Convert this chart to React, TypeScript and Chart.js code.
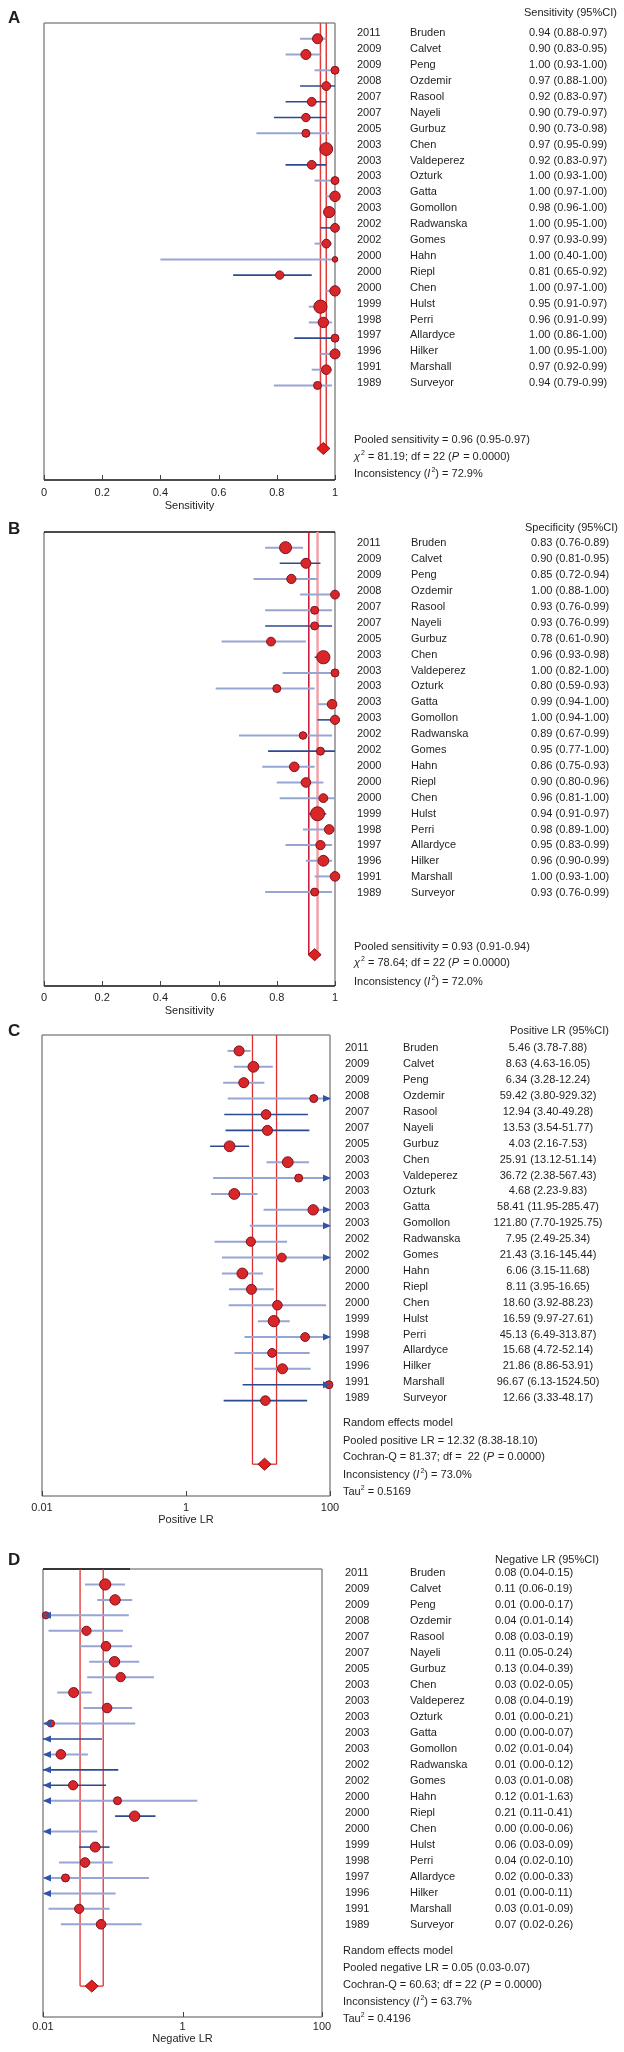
import React, { useEffect, useRef } from 'react';
import { Chart, registerables } from 'chart.js';
Chart.register(...registerables);

const FONT = '"Liberation Sans", Arial, sans-serif';
const W = 624;

// ---------- data ----------
const studyYears = ['2011','2009','2009','2008','2007','2007','2005','2003','2003','2003','2003','2003','2002','2002','2000','2000','2000','1999','1998','1997','1996','1991','1989'];
const studyNames = ['Bruden','Calvet','Peng','Ozdemir','Rasool','Nayeli','Gurbuz','Chen','Valdeperez','Ozturk','Gatta','Gomollon','Radwanska','Gomes','Hahn','Riepl','Chen','Hulst','Perri','Allardyce','Hilker','Marshall','Surveyor'];

// A: sensitivity
const sensEst = [0.94,0.90,1.00,0.97,0.92,0.90,0.90,0.97,0.92,1.00,1.00,0.98,1.00,0.97,1.00,0.81,1.00,0.95,0.96,1.00,1.00,0.97,0.94];
const sensLow = [0.88,0.83,0.93,0.88,0.83,0.79,0.73,0.95,0.83,0.93,0.97,0.96,0.95,0.93,0.40,0.65,0.97,0.91,0.91,0.86,0.95,0.92,0.79];
const sensHigh = [0.97,0.95,1.00,1.00,0.97,0.97,0.98,0.99,0.97,1.00,1.00,1.00,1.00,0.99,1.00,0.92,1.00,0.97,0.99,1.00,1.00,0.99,0.99];
const sensWeight = [5,5,4,4.4,4.4,4.2,4,6.4,4.4,4,5.2,5.6,4.4,4.4,2.8,4.2,5.2,6.6,5.2,4,5,4.8,4];
const sensTone = 'llldddlldllldlldllldlll';
const sensPooled = [0.96, 0.95, 0.97];

// B: specificity
const specEst = [0.83,0.90,0.85,1.00,0.93,0.93,0.78,0.96,1.00,0.80,0.99,1.00,0.89,0.95,0.86,0.90,0.96,0.94,0.98,0.95,0.96,1.00,0.93];
const specLow = [0.76,0.81,0.72,0.88,0.76,0.76,0.61,0.93,0.82,0.59,0.94,0.94,0.67,0.77,0.75,0.80,0.81,0.91,0.89,0.83,0.90,0.93,0.76];
const specHigh = [0.89,0.95,0.94,1.00,0.99,0.99,0.90,0.98,1.00,0.93,1.00,1.00,0.99,1.00,0.93,0.96,1.00,0.97,1.00,0.99,0.99,1.00,0.99];
const specWeight = [6,5,4.6,4.4,4,4,4.4,6.6,4,4,4.8,4.6,3.8,4,4.8,4.8,4.4,7,4.8,4.6,5.4,4.8,4];
const specTone = 'ldllldldllldldllldlllll';
const specPooled = [0.93, 0.91, 0.94];

// C: positive LR
const plrEst = [5.46,8.63,6.34,59.42,12.94,13.53,4.03,25.91,36.72,4.68,58.41,121.80,7.95,21.43,6.06,8.11,18.60,16.59,45.13,15.68,21.86,96.67,12.66];
const plrLow = [3.78,4.63,3.28,3.80,3.40,3.54,2.16,13.12,2.38,2.23,11.95,7.70,2.49,3.16,3.15,3.95,3.92,9.97,6.49,4.72,8.86,6.13,3.33];
const plrHigh = [7.88,16.05,12.24,929.32,49.28,51.77,7.53,51.14,567.43,9.83,285.47,1925.75,25.34,145.44,11.68,16.65,88.23,27.61,313.87,52.14,53.91,1524.50,48.17];
const plrWeight = [5,5.4,5,4,4.8,5,5.4,5.4,4,5.4,5.2,5,4.6,4.4,5.4,5,4.8,5.6,4.4,4.4,5,4,4.8];
const plrTone = 'lllldddllllllllllllllddd'.slice(0, 23);
const plrPooled = [12.32, 8.38, 18.10];

// D: negative LR
const nlrEst = [0.078,0.108,0.011,0.042,0.08,0.106,0.13,0.0275,0.083,0.013,0.004,0.018,0.008,0.027,0.117,0.206,0.003,0.056,0.04,0.021,0.008,0.033,0.068];
const nlrLow = [0.04,0.06,0.004,0.012,0.034,0.046,0.043,0.016,0.038,0.004,0.003,0.009,0.004,0.009,0.009,0.108,0.003,0.033,0.017,0.004,0.004,0.012,0.018];
const nlrHigh = [0.15,0.19,0.17,0.14,0.19,0.24,0.39,0.05,0.19,0.21,0.07,0.044,0.12,0.08,1.63,0.41,0.06,0.09,0.10,0.33,0.11,0.09,0.26];
const nlrWeight = [5.6,5.2,3.6,4.6,4.8,5.2,4.6,5,4.8,3.6,4,4.8,4,4.6,4,5.2,4,5,4.8,4,4,4.6,4.8];
const nlrTone = 'lllllllllldlddldldlllll';
const nlrPooled = [0.05, 0.034, 0.073];

const linTicks = [0, 0.2, 0.4, 0.6, 0.8, 1];
const linTickLabels = ['0', '0.2', '0.4', '0.6', '0.8', '1'];
const logTicks = [0.01, 1, 100];
const logTickLabels = ['0.01', '1', '100'];

type Seg = { t: string; i?: boolean; sup?: boolean };
const chi = (v: string): Seg[] => [{ t: 'χ', i: true }, { t: '2', sup: true }, { t: ` = ${v}; df = 22 (` }, { t: 'P', i: true }, { t: ' = 0.0000)' }];
const incons = (v: string): Seg[] => [{ t: 'Inconsistency (' }, { t: 'I', i: true }, { t: '2', sup: true }, { t: `) = ${v}` }];
const statsA: Seg[][] = [[{ t: 'Pooled sensitivity = 0.96 (0.95-0.97)' }], chi('81.19'), incons('72.9%')];
const statsB: Seg[][] = [[{ t: 'Pooled sensitivity = 0.93 (0.91-0.94)' }], chi('78.64'), incons('72.0%')];
const statsC: Seg[][] = [
  [{ t: 'Random effects model' }],
  [{ t: 'Pooled positive LR = 12.32 (8.38-18.10)' }],
  [{ t: 'Cochran-Q = 81.37; df =  22 (' }, { t: 'P', i: true }, { t: ' = 0.0000)' }],
  incons('73.0%'),
  [{ t: 'Tau' }, { t: '2', sup: true }, { t: ' = 0.5169' }],
];
const statsD: Seg[][] = [
  [{ t: 'Random effects model' }],
  [{ t: 'Pooled negative LR = 0.05 (0.03-0.07)' }],
  [{ t: 'Cochran-Q = 60.63; df = 22 (' }, { t: 'P', i: true }, { t: ' = 0.0000)' }],
  incons('63.7%'),
  [{ t: 'Tau' }, { t: '2', sup: true }, { t: ' = 0.4196' }],
];

const DARK = '#2c4a92';
const LIGHT = '#97a5d3';
const RED = '#d92628';
const RED_DARK = '#7d1220';
const ARROW = '#2f55a6';
const TEXT = '#1e1e1e';
const POOLED_ROW = 26;

const panels: any[] = [
  {
    top: 0, height: 515, letter: 'A', letterY: 18,
    box: { l: 44, t: 23, r: 335, b: 480 }, topColor: '#8c8c8c', bottomColor: '#111',
    xType: 'linear', xMin: 0, xMax: 1, ticks: linTicks, tickLabels: linTickLabels,
    est: sensEst, low: sensLow, high: sensHigh, weight: sensWeight, tone: sensTone, pooled: sensPooled,
    pooledColors: ['#e23b3b', '#e23b3b'], pooledWidths: [1.5, 1.5], closeBox: true,
    header: 'Sensitivity (95%CI)', headerX: 524, headerY: 13,
    yearX: 357, nameX: 410, valueX: 529, valueAlign: 'left', textY0: 33.3, textStep: 15.9,
    stats: statsA, statsX: 354, statsY: [440, 457, 474],
    tickLabelY: 493, title: 'Sensitivity', titleY: 506,
  },
  {
    top: 515, height: 505, letter: 'B', letterY: 529,
    box: { l: 44, t: 532, r: 335, b: 986 }, topColor: '#111', bottomColor: '#111',
    xType: 'linear', xMin: 0, xMax: 1, ticks: linTicks, tickLabels: linTickLabels,
    est: specEst, low: specLow, high: specHigh, weight: specWeight, tone: specTone, pooled: specPooled,
    pooledColors: ['#c8102e', '#f0a2a8'], pooledWidths: [1.5, 2.5], closeBox: false,
    header: 'Specificity (95%CI)', headerX: 525, headerY: 528,
    yearX: 357, nameX: 411, valueX: 531, valueAlign: 'left', textY0: 543.3, textStep: 15.9,
    stats: statsB, statsX: 354, statsY: [947, 963, 982],
    tickLabelY: 998, title: 'Sensitivity', titleY: 1011,
  },
  {
    top: 1020, height: 520, letter: 'C', letterY: 1031,
    box: { l: 42, t: 1035, r: 330, b: 1496 }, topColor: '#8c8c8c', bottomColor: '#8c8c8c',
    xType: 'logarithmic', xMin: 0.01, xMax: 100, ticks: logTicks, tickLabels: logTickLabels,
    est: plrEst, low: plrLow, high: plrHigh, weight: plrWeight, tone: plrTone, pooled: plrPooled,
    pooledColors: ['#e0302f', '#e0302f'], pooledWidths: [1.3, 1.3], closeBox: true,
    header: 'Positive LR (95%CI)', headerX: 510, headerY: 1031,
    yearX: 345, nameX: 403, valueX: 548, valueAlign: 'center', textY0: 1048.3, textStep: 15.9,
    stats: statsC, statsX: 343, statsY: [1423, 1441, 1457, 1475, 1492],
    tickLabelY: 1508, title: 'Positive LR', titleY: 1520,
  },
  {
    top: 1540, height: 512, letter: 'D', letterY: 1560.5,
    box: { l: 43, t: 1569, r: 322, b: 2017 }, topColor: '#8c8c8c', bottomColor: '#8c8c8c', topBlackTo: 130,
    xType: 'logarithmic', xMin: 0.01, xMax: 100, ticks: logTicks, tickLabels: logTickLabels,
    est: nlrEst, low: nlrLow, high: nlrHigh, weight: nlrWeight, tone: nlrTone, pooled: nlrPooled,
    pooledColors: ['#e0302f', '#e0302f'], pooledWidths: [1.3, 1.3], closeBox: true,
    header: 'Negative LR (95%CI)', headerX: 495, headerY: 1560,
    yearX: 345, nameX: 410, valueX: 495, valueAlign: 'left', textY0: 1573.3, textStep: 16,
    stats: statsD, statsX: 343, statsY: [1951, 1968, 1985, 2002, 2019],
    tickLabelY: 2027, title: 'Negative LR', titleY: 2039,
  },
];

function drawRich(ctx: CanvasRenderingContext2D, segs: Seg[], x: number, y: number, size: number) {
  let cx = x;
  ctx.textAlign = 'left';
  ctx.textBaseline = 'middle';
  for (const s of segs) {
    const fs = s.sup ? Math.round(size * 0.62) : size;
    ctx.font = `${s.i ? 'italic ' : ''}${fs}px ${FONT}`;
    ctx.fillText(s.t, cx, s.sup ? y - size * 0.38 : y);
    cx += ctx.measureText(s.t).width + (s.i ? 1 : 0);
  }
}

function Panel({ p }: { p: any }) {
  const ref = useRef<HTMLCanvasElement>(null);
  useEffect(() => {
    const canvas = ref.current as HTMLCanvasElement;
    const off = p.top;
    const n = p.est.length;
    const lineDatasets = p.low.map((lo: number, i: number) => ({
      data: [{ x: lo, y: i }, { x: p.high[i], y: i }],
      showLine: true,
      borderColor: p.tone[i] === 'd' ? DARK : LIGHT,
      borderWidth: p.tone[i] === 'd' ? 1.6 : 2,
      pointRadius: 0,
      pointHoverRadius: 0,
      order: 1,
    }));
    const idx: number[] = [];
    for (let i = 0; i < n; i++) if (p.est[i] >= p.xMin && p.est[i] <= p.xMax) idx.push(i);
    const circleDataset = {
      data: idx.map((i) => ({ x: p.est[i], y: i })),
      pointRadius: idx.map((i) => p.weight[i]),
      pointBackgroundColor: RED,
      pointBorderColor: RED_DARK,
      pointBorderWidth: 1,
      showLine: false,
      clip: false,
      order: 0,
    };

    const deco = {
      id: 'deco',
      beforeDatasetsDraw(chart: any) {
        const ctx = chart.ctx as CanvasRenderingContext2D;
        const xs = chart.scales.x, ys = chart.scales.y, a = chart.chartArea;
        ctx.save();
        ctx.lineWidth = 1.5;
        ctx.strokeStyle = '#8c8c8c';
        ctx.beginPath();
        ctx.moveTo(a.left, a.bottom); ctx.lineTo(a.left, a.top);
        ctx.moveTo(a.right, a.top); ctx.lineTo(a.right, a.bottom);
        ctx.stroke();
        ctx.strokeStyle = p.topColor;
        ctx.beginPath(); ctx.moveTo(a.left, a.top); ctx.lineTo(a.right, a.top); ctx.stroke();
        if (p.topBlackTo) {
          ctx.strokeStyle = '#111';
          ctx.beginPath(); ctx.moveTo(a.left, a.top); ctx.lineTo(p.topBlackTo, a.top); ctx.stroke();
        }
        ctx.strokeStyle = p.bottomColor;
        ctx.beginPath(); ctx.moveTo(a.left, a.bottom); ctx.lineTo(a.right, a.bottom); ctx.stroke();
        ctx.strokeStyle = '#444';
        ctx.lineWidth = 1;
        p.ticks.forEach((t: number) => {
          const px = Math.round(xs.getPixelForValue(t)) + 0.5;
          ctx.beginPath(); ctx.moveTo(px, a.bottom); ctx.lineTo(px, a.bottom - 5); ctx.stroke();
        });
        const yd = ys.getPixelForValue(POOLED_ROW);
        const xl = xs.getPixelForValue(p.pooled[1]);
        const xh = xs.getPixelForValue(p.pooled[2]);
        [xl, xh].forEach((px: number, k: number) => {
          ctx.strokeStyle = p.pooledColors[k];
          ctx.lineWidth = p.pooledWidths[k];
          ctx.beginPath(); ctx.moveTo(px, a.top); ctx.lineTo(px, yd); ctx.stroke();
        });
        if (p.closeBox) {
          ctx.strokeStyle = p.pooledColors[0];
          ctx.lineWidth = p.pooledWidths[0];
          ctx.beginPath(); ctx.moveTo(xl, yd); ctx.lineTo(xh, yd); ctx.stroke();
        }
        ctx.restore();
      },
      afterDatasetsDraw(chart: any) {
        const ctx = chart.ctx as CanvasRenderingContext2D;
        const xs = chart.scales.x, ys = chart.scales.y, a = chart.chartArea;
        ctx.save();
        ctx.fillStyle = ARROW;
        for (let i = 0; i < n; i++) {
          const py = ys.getPixelForValue(i);
          if (p.high[i] > p.xMax) {
            ctx.beginPath();
            ctx.moveTo(a.right + 1, py); ctx.lineTo(a.right - 7, py - 3.5); ctx.lineTo(a.right - 7, py + 3.5);
            ctx.closePath(); ctx.fill();
          }
          if (p.low[i] < p.xMin) {
            ctx.beginPath();
            ctx.moveTo(a.left, py); ctx.lineTo(a.left + 8, py - 3.5); ctx.lineTo(a.left + 8, py + 3.5);
            ctx.closePath(); ctx.fill();
          }
        }
        const dx = xs.getPixelForValue(p.pooled[0]);
        const dy = ys.getPixelForValue(POOLED_ROW);
        ctx.beginPath();
        ctx.moveTo(dx, dy - 6); ctx.lineTo(dx + 6.5, dy); ctx.lineTo(dx, dy + 6); ctx.lineTo(dx - 6.5, dy);
        ctx.closePath();
        ctx.fillStyle = '#e0201f';
        ctx.fill();
        ctx.strokeStyle = '#8b1010';
        ctx.lineWidth = 1;
        ctx.stroke();
        ctx.restore();
      },
      afterDraw(chart: any) {
        const ctx = chart.ctx as CanvasRenderingContext2D;
        const xs = chart.scales.x, a = chart.chartArea;
        ctx.save();
        ctx.fillStyle = TEXT;
        ctx.textBaseline = 'middle';
        ctx.font = `bold 17px ${FONT}`;
        ctx.textAlign = 'left';
        ctx.fillText(p.letter, 8, p.letterY - off);
        ctx.font = `11px ${FONT}`;
        ctx.textAlign = 'center';
        p.ticks.forEach((t: number, k: number) => {
          ctx.fillText(p.tickLabels[k], xs.getPixelForValue(t), p.tickLabelY - off);
        });
        ctx.fillText(p.title, (a.left + a.right) / 2, p.titleY - off);
        ctx.textAlign = 'left';
        ctx.fillText(p.header, p.headerX, p.headerY - off);
        for (let i = 0; i < n; i++) {
          const ty = p.textY0 + i * p.textStep - off;
          ctx.textAlign = 'left';
          ctx.fillText(studyYears[i], p.yearX, ty);
          ctx.fillText(studyNames[i], p.nameX, ty);
          const label = `${p.est[i].toFixed(2)} (${p.low[i].toFixed(2)}-${p.high[i].toFixed(2)})`;
          ctx.textAlign = p.valueAlign;
          ctx.fillText(label, p.valueX, ty);
        }
        p.stats.forEach((segs: Seg[], k: number) => {
          drawRich(ctx, segs, p.statsX, p.statsY[k] - off, 11);
        });
        ctx.restore();
      },
    };

    const chart = new Chart(canvas, {
      type: 'scatter',
      data: { datasets: [circleDataset, ...lineDatasets] as any },
      options: {
        animation: false,
        responsive: false,
        maintainAspectRatio: false,
        devicePixelRatio: 1,
        events: [],
        layout: {
          padding: {
            left: p.box.l,
            right: W - p.box.r,
            top: p.box.t - off,
            bottom: off + p.height - p.box.b,
          },
        },
        scales: {
          x: { type: p.xType, min: p.xMin, max: p.xMax, display: false },
          y: { type: 'linear', min: -1, max: 28, reverse: true, display: false },
        },
        plugins: { legend: { display: false }, tooltip: { enabled: false } },
      } as any,
      plugins: [deco],
    });
    return () => chart.destroy();
  }, []);
  return (
    <canvas
      ref={ref}
      width={W}
      height={p.height}
      style={{ position: 'absolute', left: 0, top: p.top, width: W, height: p.height, display: 'block' }}
    />
  );
}

export default function App() {
  return (
    <div style={{ position: 'absolute', left: 0, top: 0, width: W, height: 2052, background: '#fff' }}>
      {panels.map((p, k) => (
        <Panel key={k} p={p} />
      ))}
    </div>
  );
}
